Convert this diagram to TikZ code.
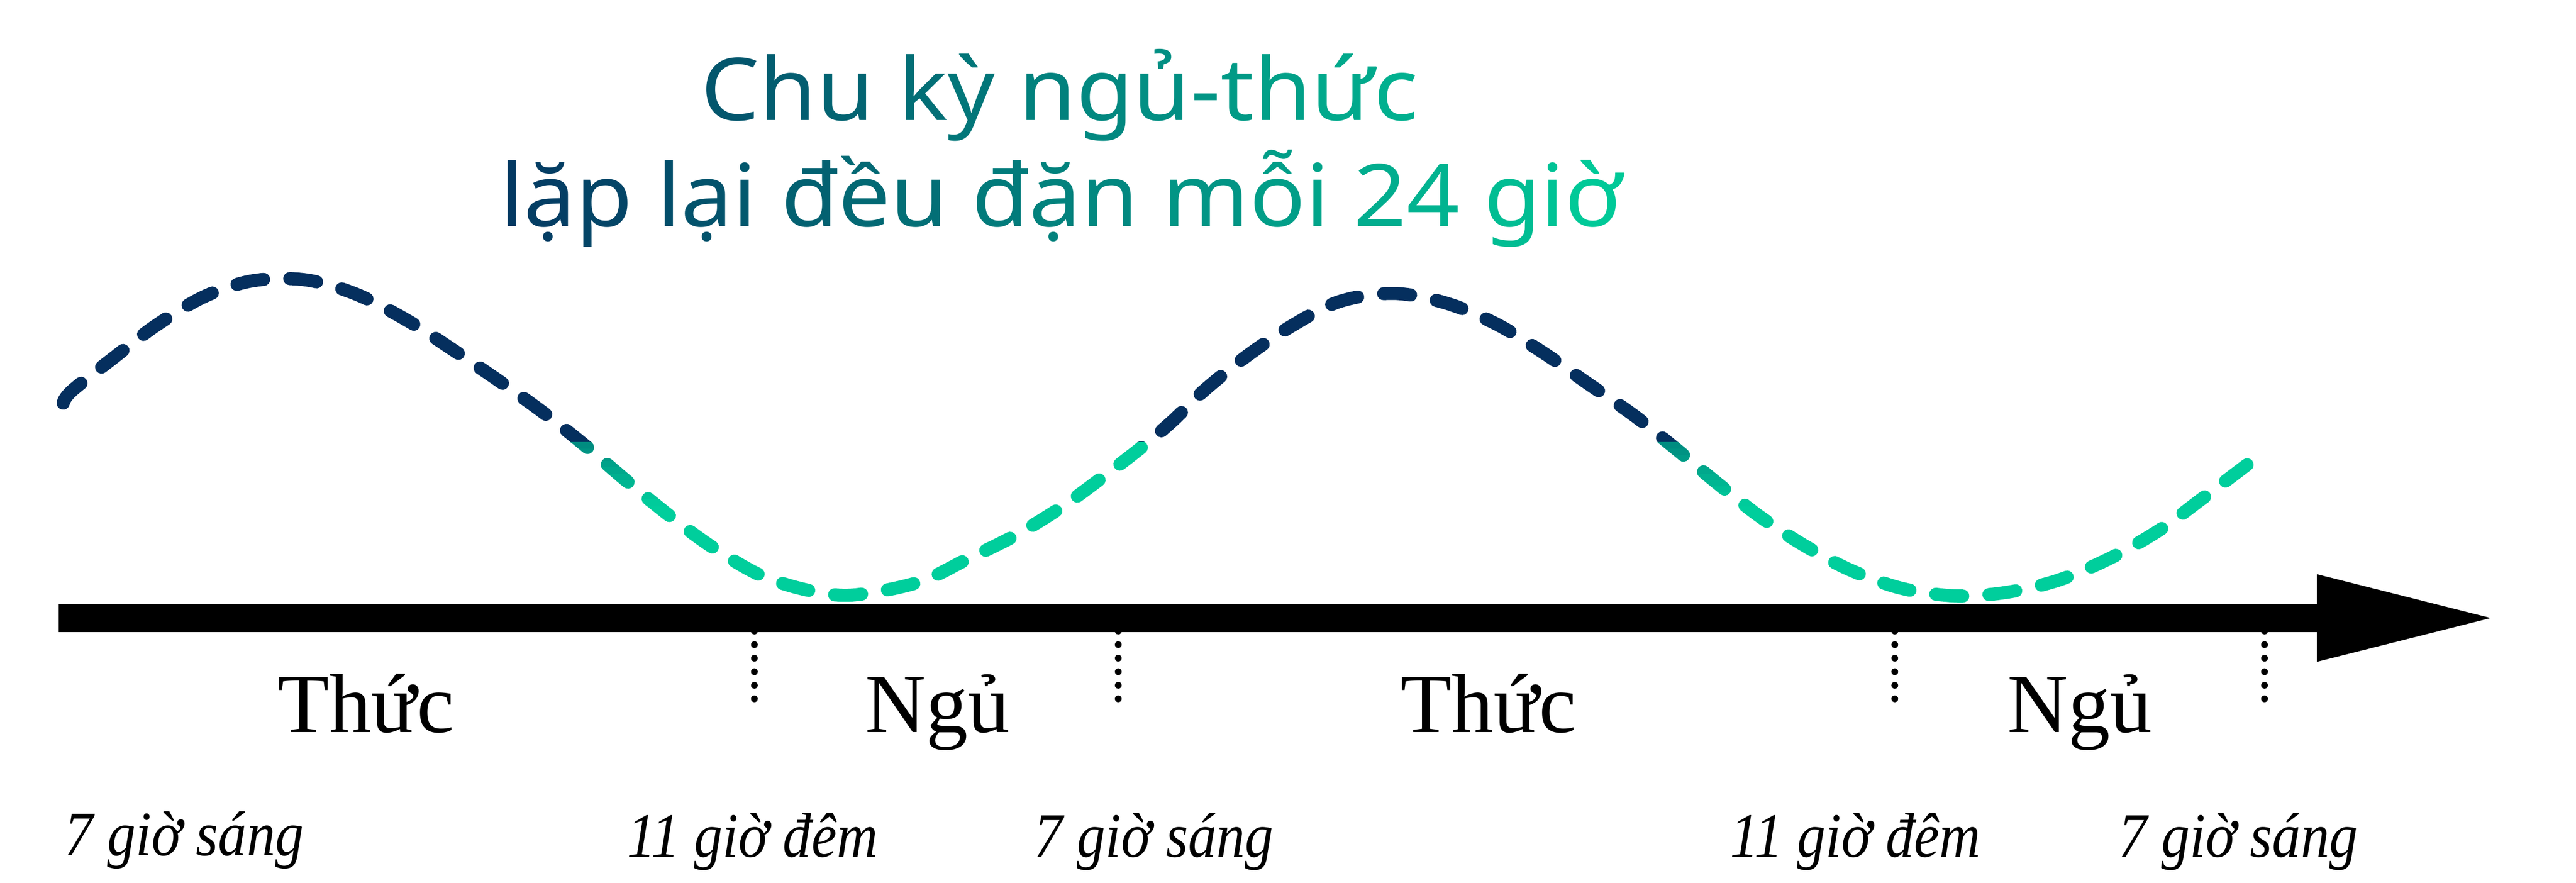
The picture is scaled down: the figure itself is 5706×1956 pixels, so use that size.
\documentclass[tikz,border=0pt]{standalone}
\usepackage{fontspec}
\setmainfont{Liberation Serif}
\newfontfamily\titlefont{Noto Sans}[FakeStretch=1.07]
\newfontfamily\timefont{Liberation Serif}[FakeStretch=0.9]
\definecolor{titlenavy}{RGB}{4,56,98}
\definecolor{greenc}{RGB}{0,204,153}
\definecolor{curvenavy}{RGB}{5,47,94}
\definecolor{curvegreen}{RGB}{0,206,156}
\definecolor{tealc}{RGB}{0,137,127}
\newcommand\gc[2]{\textcolor{greenc!#1!titlenavy}{#2}}
\newcommand\wavepath{plot[smooth,tension=0.55] coordinates {
(140,893) (159,866) (255,790) (344,722) (446,660) (540,626) (622,617) (700,624)
(797,655) (906,712) (1008,778) (1110,847) (1205,915) (1295,986) (1384,1062)
(1480,1140) (1575,1210) (1684,1274) (1792,1308) (1890,1318) (2034,1290)
(2140,1240) (2249,1186) (2352,1123) (2448,1053) (2536,985) (2600,930)
(2666,866) (2760,790) (2861,722) (2967,668) (3087,650) (3205,672) (3315,718)
(3418,781) (3515,848) (3619,920) (3707,990) (3801,1068) (3895,1142)
(3996,1208) (4097,1262) (4211,1303) (4332,1320) (4446,1312) (4560,1285)
(4675,1236) (4782,1175) (4876,1106) (4990,1020)}}
\begin{document}
\begin{tikzpicture}[x=1pt,y=-1pt,
  titletext/.style={anchor=base,inner sep=0pt,font=\titlefont\fontsize{192}{200}\selectfont},
  phase/.style={anchor=base,inner sep=0pt,font=\fontsize{186}{190}\selectfont},
  timelabel/.style={anchor=base,inner sep=0pt,font=\timefont\itshape\fontsize{140}{150}\selectfont},
  wave/.style={line width=29pt,line cap=round,dash pattern=on 60pt off 58pt},
  dotline/.style={line width=15pt,line cap=round,dash pattern=on 0pt off 30pt}]
\useasboundingbox (0,0) rectangle (5706,1956);
% title
\node[titletext] (t1) at (2347,267) {\gc{20}{C}\gc{25}{h}\gc{30}{u} \gc{37}{k}\gc{42}{ỳ} \gc{49}{n}\gc{54}{g}\gc{59}{ủ}\gc{63}{-}\gc{66}{t}\gc{70}{h}\gc{76}{ứ}\gc{81}{c}};
\node[titletext] (t2) at (2350,501) {\gc{1}{l}\gc{4}{ặ}\gc{9}{p} \gc{15}{l}\gc{18}{ạ}\gc{22}{i} \gc{28}{đ}\gc{33}{ề}\gc{37}{u} \gc{45}{đ}\gc{50}{ặ}\gc{54}{n} \gc{63}{m}\gc{69}{ỗ}\gc{73}{i} \gc{79}{2}\gc{83}{4} \gc{90}{g}\gc{94}{i}\gc{98}{ờ}};
% wave: navy above, green below
\begin{scope}
  \clip (0,0) rectangle (5706,980);
  \draw[wave,curvenavy] \wavepath;
\end{scope}
\begin{scope}
  \clip (0,980) rectangle (5706,1956);
  \draw[wave,curvegreen] \wavepath;
\end{scope}
\foreach \i in {0,...,9}{
  \pgfmathtruncatemacro\pc{\i*10+5}
  \begin{scope}
    \clip (1100,980+\i*14) rectangle (1500,995+\i*14);
    \draw[wave,color=curvegreen!\pc!tealc] \wavepath;
  \end{scope}
  \begin{scope}
    \clip (3500,980+\i*14) rectangle (3950,995+\i*14);
    \draw[wave,color=curvegreen!\pc!tealc] \wavepath;
  \end{scope}
}
% axis arrow
\coordinate (axstart) at (130,1369);
\coordinate (axtip) at (5517,1369);
\fill[black] (130,1338) -- (5132,1338) -- (5132,1272) -- (axtip) -- (5132,1466) -- (5132,1400) -- (130,1400) -- cycle;
% dotted separators
\coordinate (d1a) at (1671,1398); \coordinate (d1b) at (1671,1552);
\coordinate (d2a) at (2477,1398); \coordinate (d2b) at (2477,1552);
\coordinate (d3a) at (4197,1398); \coordinate (d3b) at (4197,1552);
\coordinate (d4a) at (5016,1398); \coordinate (d4b) at (5016,1552);
\draw[dotline] (d1a) -- (d1b);
\draw[dotline] (d2a) -- (d2b);
\draw[dotline] (d3a) -- (d3b);
\draw[dotline] (d4a) -- (d4b);
% phase labels
\node[phase] (p1) at (811,1622) {Thức};
\node[phase] (p2) at (2077,1622) {Ngủ};
\node[phase] (p3) at (3297,1622) {Thức};
\node[phase] (p4) at (4607,1622) {Ngủ};
% time labels
\node[timelabel] (h1) at (408,1895) {7 giờ sáng};
\node[timelabel] (h2) at (1667,1898) {11 giờ đêm};
\node[timelabel] (h3) at (2556,1898) {7 giờ sáng};
\node[timelabel] (h4) at (4110,1898) {11 giờ đêm};
\node[timelabel] (h5) at (4958,1898) {7 giờ sáng};
\end{tikzpicture}
\end{document}
